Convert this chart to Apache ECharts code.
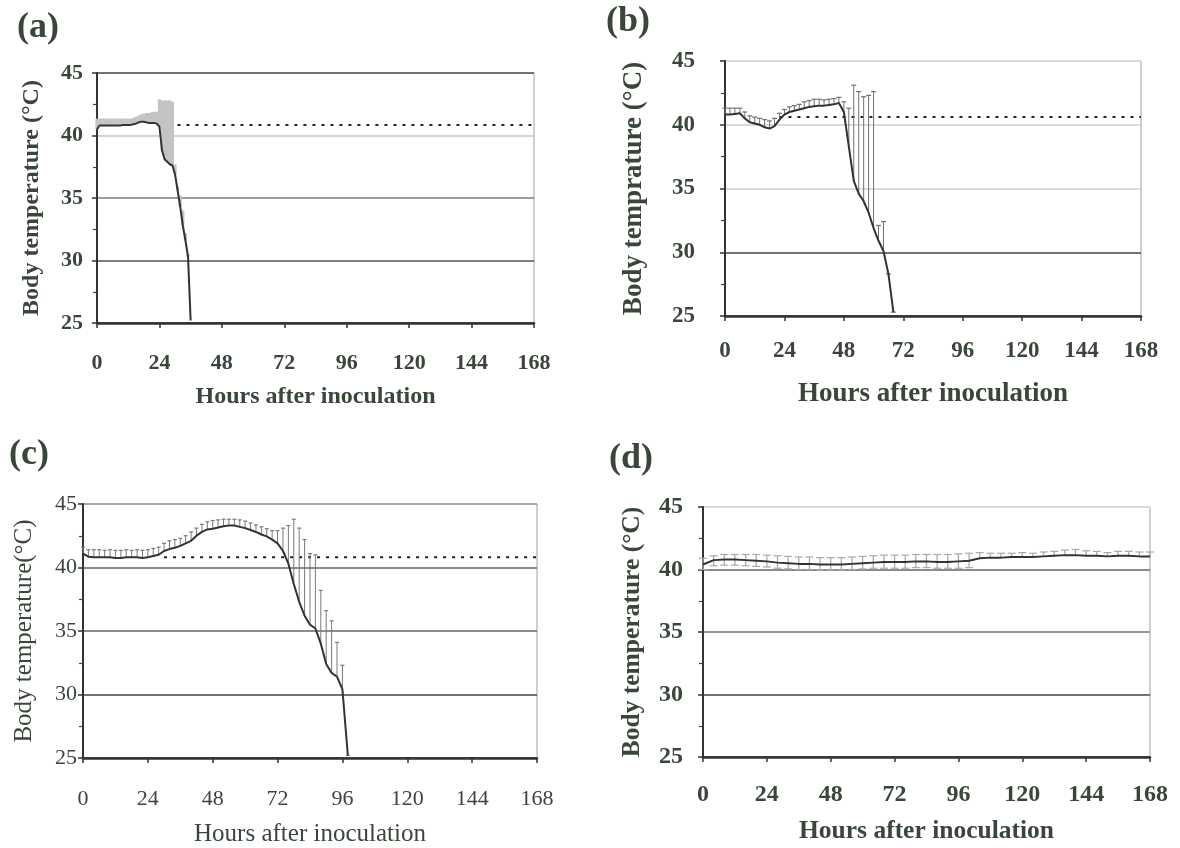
<!DOCTYPE html>
<html>
<head>
<meta charset="utf-8">
<script src="https://cdn.jsdelivr.net/npm/echarts@6/dist/echarts.min.js"></script>
<style>
  html, body { margin: 0; padding: 0; background: #ffffff; }
  #chart { width: 1180px; height: 848px; }
</style>
</head>
<body>
<div id="chart"></div>
<script>
// ---- panel (a) ----
var aHours = [0, 1, 2, 3, 4, 5, 6, 7, 8, 9, 10, 11, 12, 13, 14, 15, 16, 17, 18, 19, 20, 21, 22, 23, 24, 25, 26, 27, 28, 29, 30, 31, 32, 33, 34, 35, 36]
var aMean = [40.5, 40.8, 40.8, 40.8, 40.8, 40.8, 40.8, 40.8, 40.8, 40.8, 40.85, 40.85, 40.85, 40.85, 40.9, 40.95, 41.05, 41.1, 41.1, 41.05, 41.0, 41.0, 41.0, 40.95, 40.7, 38.8, 38.1, 37.9, 37.7, 37.6, 36.9, 35.6, 34.3, 32.8, 31.6, 30.3, 25.2]
var aTop = [41.35, 41.35, 41.35, 41.35, 41.35, 41.35, 41.35, 41.35, 41.35, 41.35, 41.35, 41.35, 41.35, 41.35, 41.4, 41.5, 41.6, 41.7, 41.75, 41.8, 41.8, 41.85, 41.9, 41.9, 42.9, 42.8, 42.8, 42.8, 42.8, 42.7, 37.7, 35.9, 35.2, 34.0, 32.2, 30.5, 25.2]

// ---- panel (b) ----
var bHours = [0, 2, 4, 6, 8, 10, 12, 14, 16, 18, 20, 22, 24, 26, 28, 30, 32, 34, 36, 38, 40, 42, 44, 46, 48, 50, 52, 54, 56, 58, 60, 62, 64, 66, 68]
var bMean = [40.8, 40.8, 40.85, 40.9, 40.5, 40.2, 40.1, 40.0, 39.8, 39.7, 39.9, 40.4, 40.8, 41.0, 41.1, 41.2, 41.3, 41.4, 41.45, 41.5, 41.5, 41.55, 41.6, 41.7, 41.0, 38.3, 35.6, 34.6, 34.0, 33.1, 31.9, 30.9, 30.1, 28.3, 25.3]
var bTop = [41.3, 41.3, 41.3, 41.3, 41.0, 40.7, 40.6, 40.5, 40.4, 40.3, 40.5, 40.9, 41.2, 41.4, 41.5, 41.6, 41.8, 41.9, 42.0, 42.0, 41.95, 42.0, 42.05, 42.15, 41.8, 41.3, 43.1, 42.6, 42.2, 42.3, 42.6, 32.1, 32.4, 28.3, 25.3]

// ---- panel (c) ----
var cHours = [0, 2, 4, 6, 8, 10, 12, 14, 16, 18, 20, 22, 24, 26, 28, 30, 32, 34, 36, 38, 40, 42, 44, 46, 48, 50, 52, 54, 56, 58, 60, 62, 64, 66, 68, 70, 72, 74, 76, 78, 80, 82, 84, 86, 88, 90, 92, 94, 96, 98]
var cMean = [41.1, 40.85, 40.8, 40.8, 40.8, 40.8, 40.75, 40.75, 40.8, 40.8, 40.8, 40.75, 40.8, 40.9, 41.0, 41.3, 41.45, 41.55, 41.7, 41.9, 42.1, 42.5, 42.8, 43.0, 43.05, 43.15, 43.25, 43.3, 43.3, 43.2, 43.1, 42.95, 42.8, 42.6, 42.45, 42.2, 41.9, 41.3, 40.3, 38.7, 37.3, 36.2, 35.5, 35.2, 34.0, 32.4, 31.7, 31.4, 30.4, 25.2]
var cTop = [41.6, 41.4, 41.4, 41.4, 41.35, 41.4, 41.35, 41.35, 41.4, 41.35, 41.4, 41.35, 41.4, 41.5, 41.6, 41.9, 42.1, 42.2, 42.3, 42.5, 42.8, 43.1, 43.4, 43.6, 43.7, 43.75, 43.8, 43.8, 43.8, 43.75, 43.65, 43.5, 43.35, 43.2, 43.05, 42.9, 42.9, 43.1, 43.3, 43.8, 43.1, 42.2, 41.1, 41.0, 38.2, 36.6, 35.8, 34.1, 32.3, 25.2]

// ---- panel (d) ----
var dHours = [0, 4, 8, 12, 16, 20, 24, 28, 32, 36, 40, 44, 48, 52, 56, 60, 64, 68, 72, 76, 80, 84, 88, 92, 96, 100, 104, 108, 112, 116, 120, 124, 128, 132, 136, 140, 144, 148, 152, 156, 160, 164, 168]
var dMean = [40.4, 40.75, 40.8, 40.8, 40.75, 40.7, 40.65, 40.55, 40.5, 40.45, 40.45, 40.4, 40.4, 40.4, 40.45, 40.5, 40.55, 40.6, 40.6, 40.6, 40.65, 40.65, 40.6, 40.6, 40.65, 40.7, 40.9, 40.95, 40.95, 41.0, 41.0, 41.0, 41.05, 41.1, 41.15, 41.15, 41.1, 41.1, 41.05, 41.1, 41.1, 41.05, 41.05]
var dTop = [40.9, 41.1, 41.2, 41.2, 41.2, 41.2, 41.15, 41.1, 41.05, 41.0, 41.0, 40.95, 40.95, 40.95, 41.0, 41.05, 41.1, 41.15, 41.15, 41.15, 41.2, 41.2, 41.2, 41.2, 41.25, 41.3, 41.35, 41.3, 41.3, 41.3, 41.35, 41.3, 41.4, 41.45, 41.55, 41.6, 41.5, 41.45, 41.35, 41.45, 41.45, 41.4, 41.4]
var dLow = [40.0, 40.3, 40.35, 40.35, 40.3, 40.25, 40.2, 40.1, 40.05, 40.0, 40.0, 39.95, 39.95, 39.95, 40.0, 40.05, 40.1, 40.1, 40.1, 40.1, 40.15, 40.15, 40.1, 40.1, 40.1, 40.15, null, null, null, null, null, null, null, null, null, null, null, null, null, null, null, null, null]

// dotted reference line: start hour and level for a, b, c
var refStart = [24, 22, 30]
var refLevel = [40.85, 40.6, 40.8]

var panelLabels = ['(a)', '(b)', '(c)', '(d)']
var yTitles = ['Body temperature (°C)', 'Body temprature (°C)', 'Body temperature(°C)', 'Body temperature (°C)']
var xTitle = 'Hours after inoculation'

var FONT = "'Liberation Serif', 'Times New Roman', serif"
var TXT = '#3a463a'
var LINE = '#2c382c'

var panels = [
  { hours: aHours, mean: aMean, top: aTop, low: null, ref: 0,
    grid: { left: 97, top: 73, width: 437, height: 250 },
    weight: 'bold', tick: 22, title: 24, yGap: 53, xGap: 62, xMargin: 29, yMargin: 14,
    split: ['#333', '#555', '#7a7a7a', '#c4c4c4', '#555'], bar: '#c4c4c4', barW: 3.2, cap: 0 },
  { hours: bHours, mean: bMean, top: bTop, low: null, ref: 1,
    grid: { left: 725, top: 61, width: 416, height: 255 },
    weight: 'bold', tick: 23, title: 27, yGap: 77, xGap: 65, xMargin: 24, yMargin: 30,
    split: ['#333', '#444', '#cfcfcf', '#cfcfcf', '#dddddd'], bar: '#707070', barW: 1, cap: 2.5 },
  { hours: cHours, mean: cMean, top: cTop, low: null, ref: 2,
    grid: { left: 83, top: 504, width: 454, height: 254 },
    weight: 'normal', tick: 22, title: 25, yGap: 46, xGap: 64, xMargin: 30, yMargin: 6,
    split: ['#333', '#444', '#666', '#666', '#999'], bar: '#7a7a7a', barW: 1, cap: 2 },
  { hours: dHours, mean: dMean, top: dTop, low: dLow, ref: -1,
    grid: { left: 703, top: 507, width: 447, height: 250 },
    weight: 'bold', tick: 24, title: 25.5, yGap: 58, xGap: 61, xMargin: 26, yMargin: 20,
    split: ['#333', '#444', '#777', '#666', '#dddddd'], bar: '#aaaaaa', barW: 1.3, cap: 4 }
]

function barRenderer(color, width, cap) {
  return function (params, api) {
    var h = api.value(0)
    var m = api.value(1)
    var t = api.value(2)
    var l = api.value(3)
    var p0 = api.coord([h, m])
    var p1 = api.coord([h, t])
    var kids = [{ type: 'line', shape: { x1: p0[0], y1: p0[1], x2: p1[0], y2: p1[1] }, style: { stroke: color, lineWidth: width } }]
    if (cap > 0) {
      kids.push({ type: 'line', shape: { x1: p1[0] - cap, y1: p1[1], x2: p1[0] + cap, y2: p1[1] }, style: { stroke: color, lineWidth: 1.2 } })
    }
    if (l != null && !isNaN(l)) {
      var p2 = api.coord([h, l])
      kids.push({ type: 'line', shape: { x1: p0[0], y1: p0[1], x2: p2[0], y2: p2[1] }, style: { stroke: color, lineWidth: width } })
      kids.push({ type: 'line', shape: { x1: p2[0] - cap, y1: p2[1], x2: p2[0] + cap, y2: p2[1] }, style: { stroke: color, lineWidth: 1.2 } })
    }
    return { type: 'group', children: kids }
  }
}

var grids = [], xAxes = [], yAxes = [], series = []
panels.forEach(function (p, i) {
  grids.push(Object.assign({ show: true, borderColor: '#a0a0a0', borderWidth: 1, containLabel: false }, p.grid))
  var lbl = { fontFamily: FONT, fontWeight: p.weight, color: TXT }
  xAxes.push({
    gridIndex: i, type: 'value', min: 0, max: 168, interval: 24,
    name: xTitle, nameLocation: 'middle', nameGap: p.xGap,
    nameTextStyle: Object.assign({ fontSize: p.title }, lbl),
    axisLine: { show: true, lineStyle: { color: '#333', width: 2.5 } },
    axisTick: { show: true, length: 5, lineStyle: { color: '#333', width: 1.5 } },
    axisLabel: Object.assign({ fontSize: p.tick, margin: p.xMargin }, lbl),
    splitLine: { show: false }
  })
  yAxes.push({
    gridIndex: i, type: 'value', min: 25, max: 45, interval: 5,
    name: yTitles[i], nameLocation: 'middle', nameGap: p.yGap,
    nameTextStyle: Object.assign({ fontSize: p.title }, lbl),
    axisLine: { show: true, lineStyle: { color: '#333', width: 2 } },
    axisTick: { show: true, length: 5, lineStyle: { color: '#333', width: 1.5 } },
    minorTick: { show: true, splitNumber: 2, length: 4, lineStyle: { color: '#444', width: 1.2 } },
    axisLabel: Object.assign({ fontSize: p.tick, margin: p.yMargin }, lbl),
    splitLine: { show: true, lineStyle: { color: p.split, width: 1.6 } }
  })
  if (p.ref >= 0) {
    series.push({
      type: 'line', xAxisIndex: i, yAxisIndex: i, z: 1, silent: true,
      symbol: 'none',
      data: [[refStart[p.ref], refLevel[p.ref]], [168, refLevel[p.ref]]],
      lineStyle: { color: '#222', width: 2, type: [3, 6] }
    })
  }
  var rows = p.hours.map(function (h, k) {
    return p.low ? [h, p.mean[k], p.top[k], p.low[k]] : [h, p.mean[k], p.top[k]]
  })
  series.push({
    type: 'custom', xAxisIndex: i, yAxisIndex: i, z: 2, silent: true,
    renderItem: barRenderer(p.bar, p.barW, p.cap),
    encode: { x: 0, y: [1, 2] },
    data: rows
  })
  series.push({
    type: 'line', xAxisIndex: i, yAxisIndex: i, z: 3, silent: true,
    showSymbol: false, symbol: 'none',
    data: p.hours.map(function (h, k) { return [h, p.mean[k]] }),
    lineStyle: { color: LINE, width: 2 }
  })
})

var labelPos = [[17, 10], [606, 4], [9, 437], [609, 441]]
var graphics = panelLabels.map(function (t, i) {
  return {
    type: 'text', left: labelPos[i][0], top: labelPos[i][1],
    style: { text: t, fontFamily: FONT, fontWeight: 'bold', fontSize: 36, fill: TXT }
  }
})

var chart = echarts.init(document.getElementById('chart'))
chart.setOption({
  backgroundColor: '#ffffff',
  animation: false,
  grid: grids,
  xAxis: xAxes,
  yAxis: yAxes,
  graphic: graphics,
  series: series
})
window.addEventListener('resize', function () { chart.resize() })
</script>
</body>
</html>
